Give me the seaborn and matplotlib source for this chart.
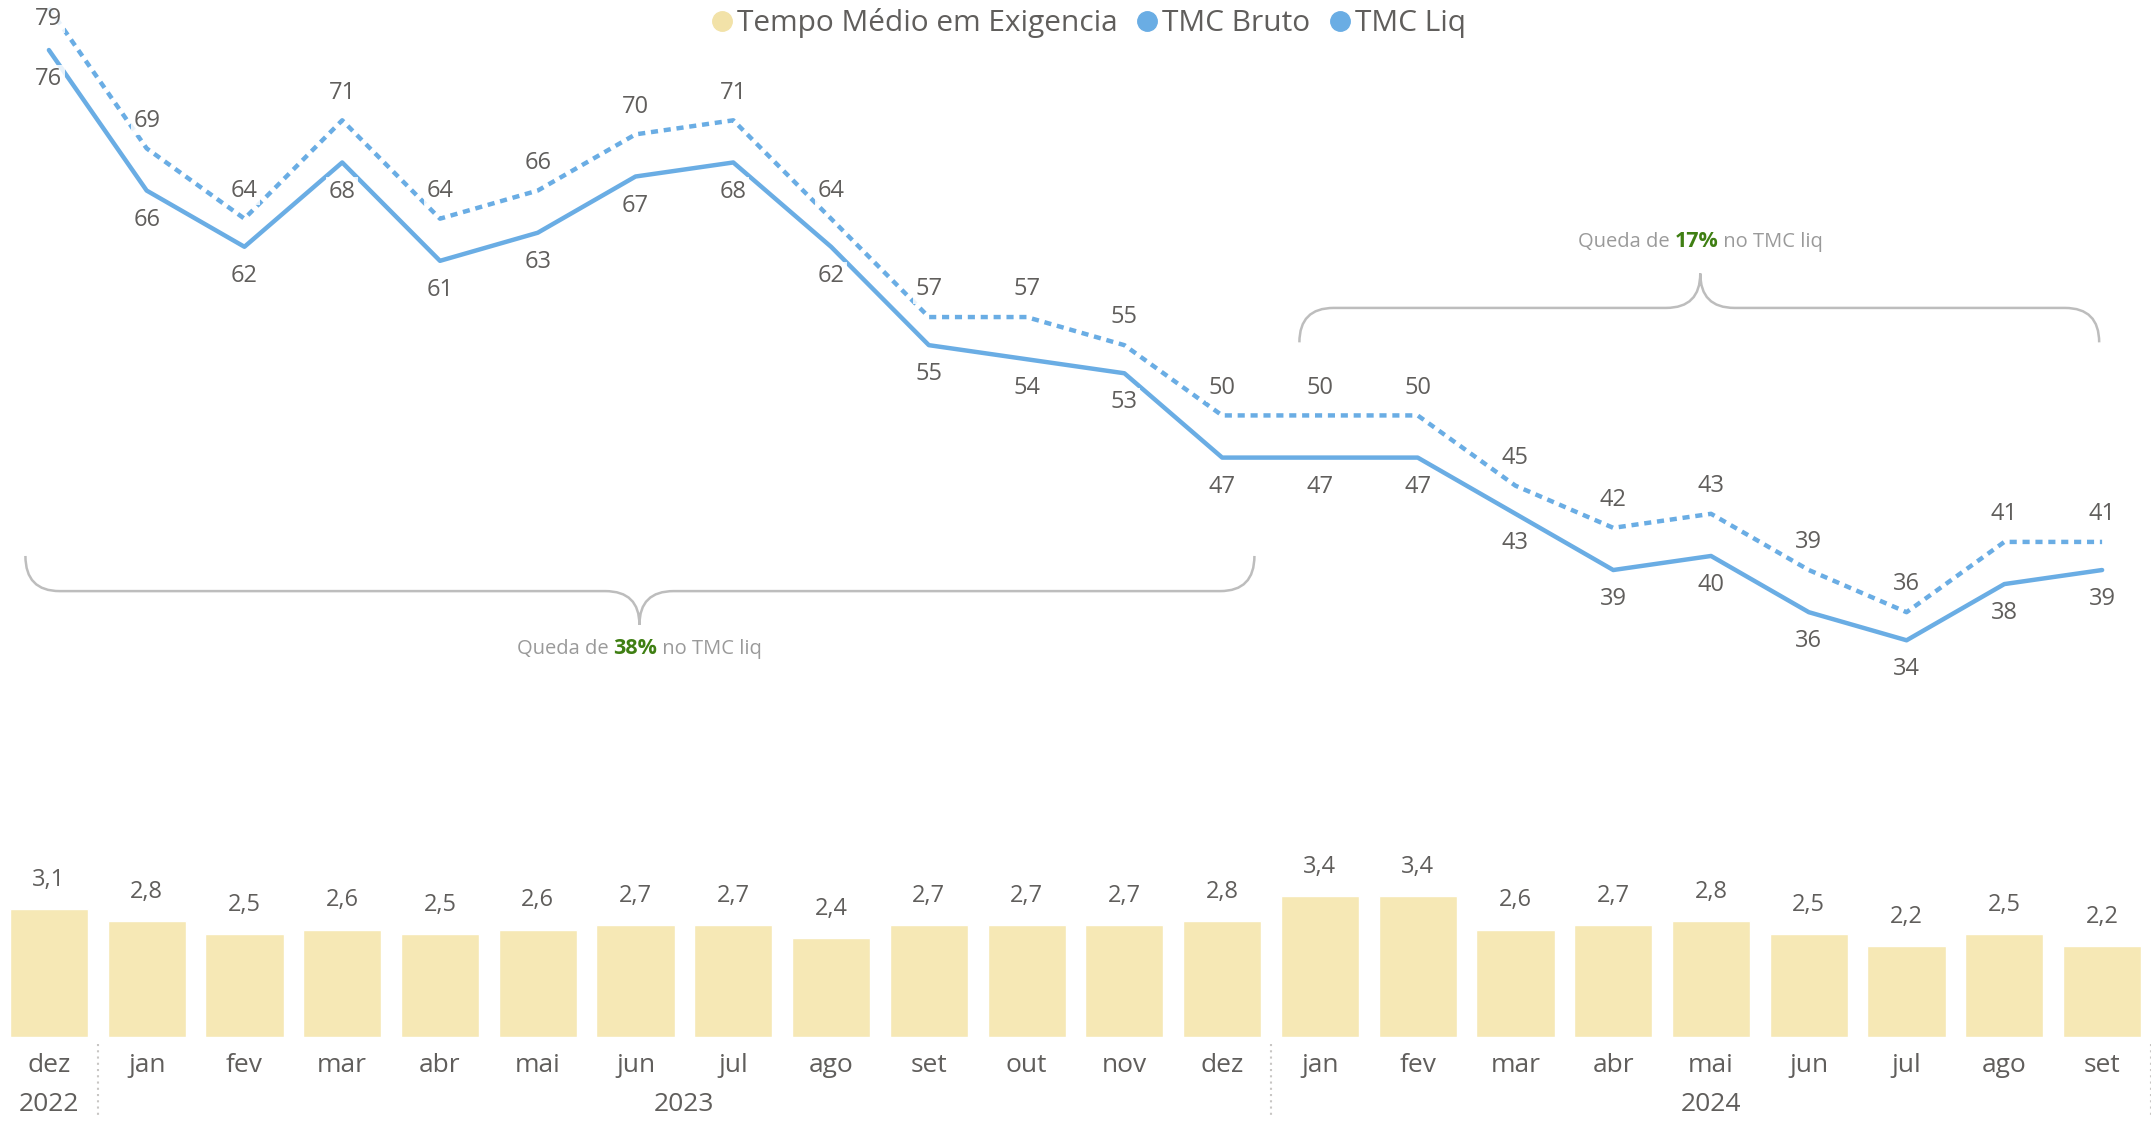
"""TMC bruto x liquido com tempo medio em exigencia"""
import matplotlib
matplotlib.use('Agg')
import matplotlib.pyplot as plt
from matplotlib.lines import Line2D
from matplotlib.path import Path
from matplotlib.patches import PathPatch
from matplotlib.offsetbox import TextArea, HPacker, AnnotationBbox
import pandas as pd
import seaborn as sns

# dados
meses = ['dez', 'jan', 'fev', 'mar', 'abr', 'mai', 'jun', 'jul', 'ago', 'set', 'out', 'nov', 'dez',
         'jan', 'fev', 'mar', 'abr', 'mai', 'jun', 'jul', 'ago', 'set']
anos = ['2022', '2023', '2024']
tmc_bruto = [79, 69, 64, 71, 64, 66, 70, 71, 64, 57, 57, 55, 50, 50, 50, 45, 42, 43, 39, 36, 41, 41]
tmc_liq = [76, 66, 62, 68, 61, 63, 67, 68, 62, 55, 54, 53, 47, 47, 47, 43, 39, 40, 36, 34, 38, 39]
tempo_exig = [3.1, 2.8, 2.5, 2.6, 2.5, 2.6, 2.7, 2.7, 2.4, 2.7, 2.7, 2.7, 2.8,
              3.4, 3.4, 2.6, 2.7, 2.8, 2.5, 2.2, 2.5, 2.2]

df = pd.DataFrame({'pos': range(len(meses)), 'mes': meses, 'bruto': tmc_bruto,
                   'liq': tmc_liq, 'exig': tempo_exig})

sns.set_style('white')
plt.rcParams['font.family'] = ['Open Sans', 'DejaVu Sans']

AZUL = '#6AADE4'
AMARELO = '#F6E8B5'
CINZA = '#605E5C'

fig = plt.figure(figsize=(21.51, 11.24), dpi=100)
ax = fig.add_axes([0, 0.077, 1, 0.923])

# barras - tempo medio em exigencia
sns.barplot(data=df, x='pos', y='exig', ax=ax, color=AMARELO, width=0.8, saturation=1)
ax.set_ylim(0, 25)
ax.set_xlim(-0.5, 21.5)
for i, v in enumerate(tempo_exig):
    ax.annotate(f'{v:.1f}'.replace('.', ','), (i, v), xytext=(0, 21), textcoords='offset points',
                ha='center', va='center', fontsize=17, color=CINZA)

# eixo x: meses e anos
ax.set_xticks([])
ax.set_yticks([])
ax.set_xlabel('')
ax.set_ylabel('')
for i, m in enumerate(meses):
    ax.annotate(m, (i, 0), xycoords=('data', 'axes fraction'), xytext=(0, -20),
                textcoords='offset points', ha='center', va='center', fontsize=19, color=CINZA,
                annotation_clip=False)
for x, ano in zip([0, 6.5, 17], anos):
    ax.annotate(ano, (x, 0), xycoords=('data', 'axes fraction'), xytext=(0, -48),
                textcoords='offset points', ha='center', va='center', fontsize=19, color=CINZA,
                annotation_clip=False)
for x in [0.5, 12.5, 21.5]:
    ax.plot([x, x], [-0.006, -0.078], transform=ax.get_xaxis_transform(), color='#C8C6C4',
            lw=1.5, ls=(0, (1, 2)), clip_on=False)

# linhas - TMC
ax2 = ax.twinx()
sns.lineplot(data=df, x='pos', y='bruto', ax=ax2, color=AZUL, lw=3.2)
ax2.lines[-1].set_linestyle((0, (1.6, 1.3)))
sns.lineplot(data=df, x='pos', y='liq', ax=ax2, color=AZUL, lw=3.2)
ax2.set_ylim(5.74, 79.56)
ax2.set_xlim(-0.5, 21.5)
ax2.set_yticks([])
ax2.set_ylabel('')
ax2.set_xlabel('')

caixa = dict(boxstyle='square,pad=0.1', fc='white', ec='none', alpha=0.85)
for i in range(len(meses)):
    # o primeiro rotulo fica dentro da area (encostado no topo)
    dy = -8 if i == 0 else 20
    ax2.annotate(str(tmc_bruto[i]), (i, tmc_bruto[i]), xytext=(0, dy), textcoords='offset points',
                 ha='center', va='center', fontsize=17, color=CINZA, bbox=caixa)
    ax2.annotate(str(tmc_liq[i]), (i, tmc_liq[i]), xytext=(0, -21), textcoords='offset points',
                 ha='center', va='center', fontsize=17, color=CINZA, bbox=caixa)

for a in (ax, ax2):
    for s in a.spines.values():
        s.set_visible(False)


def chave(axis, x0, x1, xc, y_fim, y_h, y_ponta, r=0.35):
    verts = [(x0, y_fim), (x0, y_h), (x0 + r, y_h),
             (xc - r, y_h), (xc, y_h), (xc, y_ponta),
             (xc, y_h), (xc + r, y_h),
             (x1 - r, y_h), (x1, y_h), (x1, y_fim)]
    codes = [Path.MOVETO, Path.CURVE3, Path.CURVE3,
             Path.LINETO, Path.CURVE3, Path.CURVE3,
             Path.CURVE3, Path.CURVE3,
             Path.LINETO, Path.CURVE3, Path.CURVE3]
    axis.add_patch(PathPatch(Path(verts, codes), fc='none', ec='#BDBDBD', lw=1.8, clip_on=False))


def nota(axis, x, y, pct):
    partes = [TextArea('Queda de ', textprops=dict(color='#9A9A9A', fontsize=14.5)),
              TextArea(pct, textprops=dict(color='#3F7F13', fontsize=15.5, fontweight='bold')),
              TextArea(' no TMC liq', textprops=dict(color='#9A9A9A', fontsize=14.5))]
    caixa_txt = HPacker(children=partes, align='baseline', pad=0, sep=0)
    axis.add_artist(AnnotationBbox(caixa_txt, (x, y), frameon=False, box_alignment=(0.5, 0.5)))


chave(ax2, -0.24, 12.33, 6.04, 40.0, 37.5, 35.1)
nota(ax2, 6.04, 33.4, '38%')
chave(ax2, 12.79, 20.97, 16.89, 55.2, 57.65, 60.1)
nota(ax2, 16.89, 62.4, '17%')

# legenda
handles = [Line2D([], [], ls='none', marker='o', ms=14, color='#F2E2A8'),
           Line2D([], [], ls='none', marker='o', ms=14, color=AZUL),
           Line2D([], [], ls='none', marker='o', ms=14, color=AZUL)]
fig.legend(handles, ['Tempo Médio em Exigencia', 'TMC Bruto', 'TMC Liq'], loc='upper center',
           bbox_to_anchor=(0.505, 1.006), ncol=3, frameon=False, fontsize=21.5, labelcolor=CINZA,
           handletextpad=0.0, columnspacing=0.5, borderpad=0, handlelength=1.0)

fig.savefig('out.png', dpi=100)
